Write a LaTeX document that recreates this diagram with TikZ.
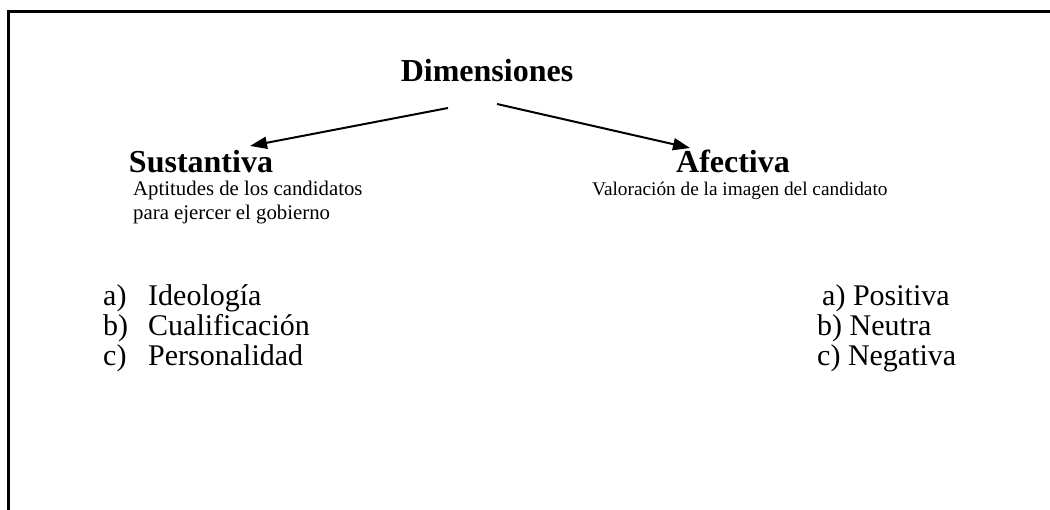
\documentclass[tikz,border=0pt]{standalone}
\usepackage{fontspec}
\setmainfont{Liberation Serif}
\usetikzlibrary{arrows.meta}
\begin{document}
\begin{tikzpicture}[x=1pt,y=-1pt,
  heading/.style={font=\fontsize{32}{38}\selectfont\bfseries, inner sep=0pt, anchor=base},
  subtitle/.style={font=\fontsize{20.8}{24}\selectfont, inner sep=0pt, anchor=base west},
  listitem/.style={font=\fontsize{30}{34}\selectfont, inner sep=0pt, anchor=base west},
  link/.style={line width=2pt, -{Triangle[length=17pt,width=12pt]}},
  frameline/.style={line width=3pt}]
  \useasboundingbox (0,0) rectangle (1050,510);

  % open frame: top and left edges only
  \coordinate (fTL) at (8,12);
  \coordinate (fTR) at (1050,12);
  \coordinate (fBL) at (8,510);
  \draw[frameline] (fBL) -- (fTL) -- (fTR);

  % headings
  \node[heading] (dim) at (487,82) {Dimensiones};
  \node[heading] (sus) at (201,173) {Sustantiva};
  \node[heading] (afe) at (733,173) {Afectiva};

  % arrows from the title to both dimensions
  \coordinate (lstart) at (448,108);
  \coordinate (lend) at (250,146);
  \coordinate (rstart) at (497,104);
  \coordinate (rend) at (690,148);
  \draw[link] (lstart) -- (lend);
  \draw[link] (rstart) -- (rend);

  % descriptions
  \node[subtitle] (susd1) at (133,196) {Aptitudes de los candidatos};
  \node[subtitle] (susd2) at (133,220) {para ejercer el gobierno};
  \node[subtitle, font=\fontsize{19.3}{23}\selectfont] (afed) at (592,196) {Valoración de la imagen del candidato};

  % left list
  \node[listitem] (la) at (103,306) {a)};
  \node[listitem] (lb) at (103,336) {b)};
  \node[listitem] (lc) at (103,366) {c)};
  \node[listitem] (lat) at (148,306) {Ideología};
  \node[listitem] (lbt) at (148,336) {Cualificación};
  \node[listitem] (lct) at (148,366) {Personalidad};

  % right list
  \node[listitem] (ra) at (822,306) {a) Positiva};
  \node[listitem] (rb) at (817,336) {b) Neutra};
  \node[listitem] (rc) at (817,366) {c) Negativa};
\end{tikzpicture}
\end{document}
